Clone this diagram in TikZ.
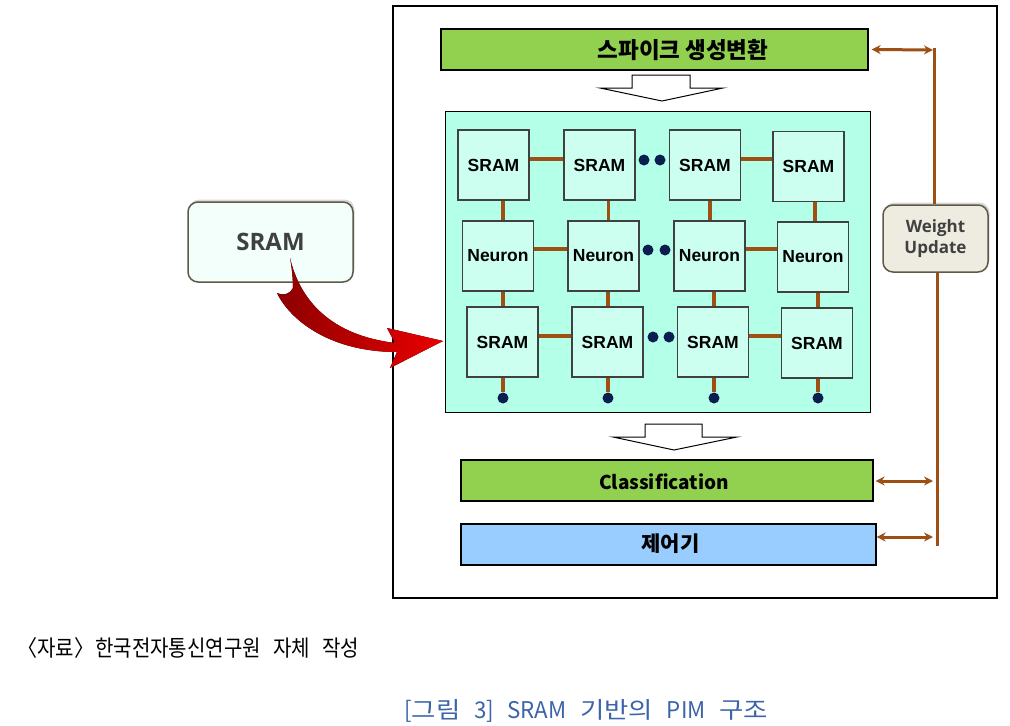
\documentclass[tikz,border=0pt]{standalone}
\usepackage{fontspec}
\setmainfont{Liberation Sans}
\newfontfamily\kr{Noto Sans CJK KR}
\newfontfamily\krcap{Noto Sans CJK KR}[FakeStretch=0.89, WordSpace=2.7]
\newfontfamily\krcapb{Noto Sans CJK KR}[FakeStretch=1.15, WordSpace=2.3]
\newfontfamily\krcapl{Noto Sans CJK KR}[FakeStretch=0.97, WordSpace=2.3]
\newfontfamily\os{Open Sans}
\usetikzlibrary{shadows,arrows.meta}
\definecolor{brn}{RGB}{158,80,20}
\definecolor{grn}{RGB}{146,208,80}
\definecolor{blu}{RGB}{153,204,255}
\definecolor{cyanbg}{RGB}{180,255,232}
\definecolor{cellbg}{RGB}{204,255,240}
\definecolor{navy}{RGB}{10,30,80}
\definecolor{olive}{RGB}{95,90,70}
\definecolor{wubg}{RGB}{238,236,225}
\definecolor{mint}{RGB}{242,255,250}
\definecolor{txtgray}{RGB}{64,64,64}
\definecolor{capblue}{RGB}{60,100,168}
\definecolor{darkred}{RGB}{140,0,0}
\definecolor{brightred}{RGB}{235,0,0}
\tikzset{
  cell/.style={draw=black!75, line width=1.2pt, fill=cellbg, inner sep=0pt,
    minimum width=71pt, minimum height=70pt, font=\bfseries\fontsize{17.5}{17.5}\selectfont},
  bar/.style={draw=black, line width=1.3pt, inner sep=0pt},
  bartext/.style={font=\kr\bfseries\fontsize{20}{20}\selectfont, inner sep=0pt},
  conn/.style={brn, line width=3.4pt},
  bline/.style={brn, line width=3pt},
  darr/.style={brn, line width=3pt, {Stealth[length=9pt,width=9pt]}-{Stealth[length=9pt,width=9pt]}},
  bdot/.style={circle, fill=navy, inner sep=0pt, minimum size=11pt},
  hollow/.style={draw=black, line width=1pt, fill=white},
  softbox/.style={rounded corners=10pt, line width=1.5pt, draw=olive,
    drop shadow={opacity=0.3, shadow xshift=1.5pt, shadow yshift=2.5pt}}
}
\begin{document}
\begin{tikzpicture}[x=1pt,y=-1pt]
\useasboundingbox (0,0) rectangle (1010,726);
\fill[white] (0,0) rectangle (1010,726);
% outer frame
\node[draw=black, line width=2.6pt, minimum width=604pt, minimum height=592pt, inner sep=0pt] (frame) at (695,302) {};
% top bar
\node[bar, fill=grn, minimum width=427pt, minimum height=41pt] (spk) at (654.5,49.5) {};
\node[bartext, font=\kr\bfseries\fontsize{22.5}{22.5}\selectfont] (spktxt) at (683,50) {스파이크 생성변환};
% hollow arrow 1
\draw[hollow] (632,75) -- (690,75) -- (690,88) -- (723,88) -- (662,101) -- (600,88) -- (632,88) -- cycle;
% panel
\node[draw=black, line width=1pt, fill=cyanbg, minimum width=425pt, minimum height=301pt, inner sep=0pt] (panel) at (657.5,261.5) {};
% cells
\node[cell] (s11) at (493.5,165) {SRAM};
\node[cell] (s12) at (599.5,165) {SRAM};
\node[cell] (s13) at (705,165) {SRAM};
\node[cell] (s14) at (808.5,166.5) {SRAM};
\node[cell] (n1) at (498,256) {Neuron};
\node[cell] (n2) at (603.5,256) {Neuron};
\node[cell] (n3) at (709.5,256) {Neuron};
\node[cell] (n4) at (813,257) {Neuron};
\node[cell] (b1) at (502.5,342) {SRAM};
\node[cell] (b2) at (607.5,342) {SRAM};
\node[cell] (b3) at (713,342) {SRAM};
\node[cell] (b4) at (817,343) {SRAM};
% horizontal connectors
\draw[conn] (s11.east |- 0,159) -- (s12.west |- 0,159);
\draw[conn] (s13.east |- 0,159) -- (s14.west |- 0,159);
\draw[conn] (n1.east |- 0,249) -- (n2.west |- 0,249);
\draw[conn] (n3.east |- 0,249) -- (n4.west |- 0,249);
\draw[conn] (b1.east |- 0,336) -- (b2.west |- 0,336);
\draw[conn] (b3.east |- 0,336) -- (b4.west |- 0,336);
% row dots
\node[bdot] (r1a) at (644,160) {};
\node[bdot] (r1b) at (660,160) {};
\node[bdot] (r2a) at (648,250) {};
\node[bdot] (r2b) at (665,250) {};
\node[bdot] (r3a) at (653,337) {};
\node[bdot] (r3b) at (669,337) {};
% vertical connectors
\draw[conn] (s11.south -| 503,0) -- (n1.north -| 503,0);
\draw[conn] (s12.south -| 608.5,0) -- (n2.north -| 608.5,0);
\draw[conn] (s13.south -| 710,0) -- (n3.north -| 710,0);
\draw[conn] (s14.south -| 815,0) -- (n4.north -| 815,0);
\draw[conn] (n1.south -| 503,0) -- (b1.north -| 503,0);
\draw[conn] (n2.south -| 608,0) -- (b2.north -| 608,0);
\draw[conn] (n3.south -| 714,0) -- (b3.north -| 714,0);
\draw[conn] (n4.south -| 818,0) -- (b4.north -| 818,0);
\node[bdot] (d1) at (503,398) {};
\node[bdot] (d2) at (608,398) {};
\node[bdot] (d3) at (714,398) {};
\node[bdot] (d4) at (818,398) {};
\draw[conn] (b1.south -| 503,0) -- (d1);
\draw[conn] (b2.south -| 608,0) -- (d2);
\draw[conn] (b3.south -| 714,0) -- (d3);
\draw[conn] (b4.south -| 818,0) -- (d4);
% hollow arrow 2
\draw[hollow] (645,424) -- (702,424) -- (702,437) -- (737,437) -- (674,450) -- (613,437) -- (645,437) -- cycle;
% classification & controller
\node[bar, fill=grn, minimum width=412pt, minimum height=41pt] (cls) at (667,480.5) {};
\node[bartext, font=\kr\bfseries\fontsize{19}{19}\selectfont] (clstxt) at (664,482) {Classification};
\node[bar, fill=blu, minimum width=415pt, minimum height=41pt] (ctl) at (668.5,544.5) {};
\node[bartext, font=\kr\bfseries\fontsize{21}{21}\selectfont] (ctltxt) at (670.5,544) {제어기};
% weight update
\node[softbox, fill=wubg, minimum width=105pt, minimum height=67pt, inner sep=0pt,
  align=center, text=txtgray, font=\os\bfseries\fontsize{17}{21}\selectfont] (wu) at (935.5,238.5) {Weight\\Update};
\coordinate (t1) at (934,48);
\coordinate (a1) at (933,50);
\coordinate (a2) at (933,481);
\coordinate (a3) at (933,537);
\coordinate (t2) at (937,546);
\draw[bline] (t1) -- (wu.north -| 934,0);
\draw[bline] (wu.south -| 937,0) -- (t2);
\draw[darr] ([xshift=3pt]spk.east) -- (a1);
\draw[darr] ([xshift=2pt]cls.east |- 0,481) -- (a2);
\draw[darr] ([xshift=0pt]ctl.east |- 0,537) -- (a3);
% left SRAM box
\node[softbox, fill=mint, minimum width=165pt, minimum height=80pt, inner sep=0pt,
  text=txtgray, font=\os\bfseries\fontsize{24}{24}\selectfont] (lsram) at (270.5,242) {SRAM};
% red curved arrow
\fill[left color=darkred, right color=brightred]
  (290,258) .. controls (300,300) and (330,335) .. (395,343)
  -- (387,328) -- (443,341) -- (390,368) -- (397,352)
  .. controls (330,352) and (290,320) .. (277,293)
  .. controls (284,296) and (290,294) .. (293,288)
  .. controls (293,280) and (292,268) .. (290,258) -- cycle;
% captions
\node[anchor=west, inner sep=0pt, font=\krcap\fontsize{22.5}{22.5}\selectfont] (src) at (17,648) {〈자료〉\kern-11pt{} 한국전자통신연구원 자체 작성};
\node[anchor=west, inner sep=0pt, text=capblue, font=\krcapb\fontsize{23}{23}\selectfont] (cap) at (404,711) {{\krcapl[}그림 {\krcapl 3]} {\krcapl SRAM} 기반의 {\krcapl PIM} 구조};
\end{tikzpicture}
\end{document}
